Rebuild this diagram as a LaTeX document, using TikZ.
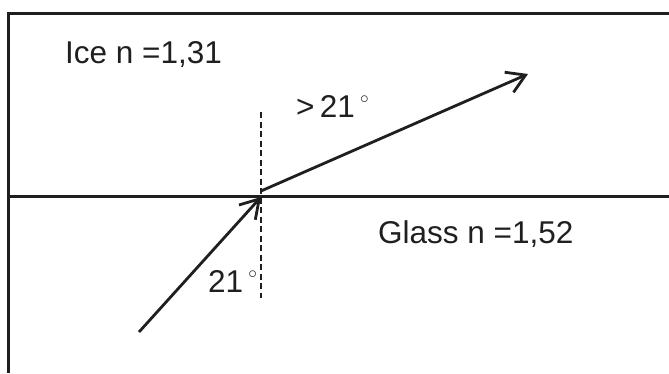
\documentclass[tikz,border=0pt]{standalone}
\usepackage{fontspec}
\setmainfont{Liberation Sans}
\usetikzlibrary{arrows.meta}
\newcommand{\degmark}{\raisebox{14pt}{\fontsize{18}{18}\selectfont$\circ$}}
\begin{document}
\begin{tikzpicture}[x=1pt,y=-1pt,
  frameline/.style={line width=3pt,color=black!88},
  ray/.style={line width=2.8pt,color=black!88,-{Straight Barb[length=18pt,width=22pt,line width=2.8pt]}},
  normal/.style={line width=2.4pt,color=black!88,dash pattern=on 6pt off 3.5pt},
  lbl/.style={anchor=base west,inner sep=0pt,text=black!88,font=\fontsize{31.5}{36}\selectfont}]
\useasboundingbox (0,0) rectangle (669,373);
\coordinate (tl) at (8,13);
\coordinate (tr) at (669,13);
\coordinate (bl) at (8,373);
\coordinate (il) at (8,196);
\coordinate (ir) at (669,196);
\coordinate (ntop) at (261,112);
\coordinate (nbot) at (261,298);
\coordinate (src) at (139,332);
\coordinate (hit) at (261,197);
\coordinate (out) at (261,191);
\coordinate (dst) at (528,74);
\draw[frameline] (tr) -- (tl) -- (bl);
\draw[frameline] (il) -- (ir);
\draw[normal] (ntop) -- (nbot);
\draw[ray] (src) -- (hit);
\draw[ray] (out) -- (dst);
\node[lbl] (ice) at (65,63) {Ice n =1,31};
\node[lbl] (glass) at (378,243) {Glass n =1,52};
\node[lbl] (ang2) at (296,117) {>\,21\,\degmark};
\node[lbl] (ang1) at (208,292) {21\,\degmark};
\end{tikzpicture}
\end{document}
